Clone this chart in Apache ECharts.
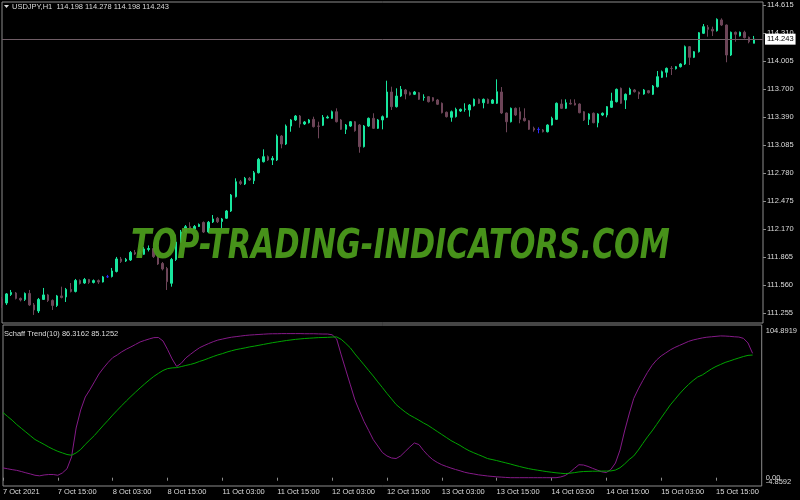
<!DOCTYPE html>
<html>
<head>
<meta charset="utf-8">
<script src="https://cdn.jsdelivr.net/npm/echarts@6/dist/echarts.min.js"></script>
<style>html,body{margin:0;padding:0;background:#000;}#c{width:800px;height:500px;}</style>
</head>
<body>
<div id="c"></div>
<script>
// ---- data ----
const days = ['7 Oct', '8 Oct', '11 Oct', '12 Oct', '13 Oct', '14 Oct', '15 Oct'];
const firstHour = 3;
const padBars = 2;
const priceTicks = [111.255, 111.560, 111.865, 112.170, 112.475, 112.780, 113.085, 113.390, 113.700, 114.005, 114.310, 114.615];
const indTicksTop = [104.8919, 0];
const indTickTextTop = ['104.8919', '0.00'];
const indTicksBottom = [-4.8592];
const indTickTextBottom = ['-4.8592'];

const O = [111.411,111.367,111.460,111.476,111.417,111.406,111.471,111.346,111.280,111.406,
111.455,111.395,111.340,111.444,111.433,111.515,111.493,111.613,111.585,111.624,
111.591,111.611,111.596,111.653,111.656,111.711,111.847,111.825,111.836,111.918,
111.901,111.898,111.951,111.961,111.872,111.798,111.743,111.582,111.842,112.032,
112.141,112.199,112.174,112.201,112.245,112.141,112.250,112.291,112.256,112.291,
112.370,112.526,112.689,112.664,112.726,112.700,112.787,112.907,112.962,112.926,
112.926,113.187,113.100,113.296,113.362,113.405,113.318,113.332,113.369,113.296,
113.304,113.384,113.380,113.452,113.362,113.260,113.296,113.343,113.307,113.071,
113.296,113.380,113.271,113.362,113.391,113.667,113.507,113.623,113.689,113.659,
113.642,113.659,113.607,113.616,113.605,113.580,113.544,113.446,113.391,113.398,
113.460,113.478,113.471,113.518,113.587,113.550,113.587,113.544,113.544,113.667,
113.438,113.343,113.489,113.452,113.380,113.354,113.271,113.259,113.253,113.234,
113.307,113.369,113.536,113.489,113.544,113.544,113.536,113.452,113.369,113.435,
113.332,113.416,113.416,113.500,113.561,113.707,113.580,113.642,113.689,113.664,
113.645,113.681,113.642,113.725,113.827,113.882,113.925,113.921,113.943,113.972,
114.161,114.045,114.106,114.307,114.372,114.350,114.335,114.452,114.397,114.070,
114.318,114.280,114.318,114.263,114.198];
const C = [111.346,111.466,111.482,111.417,111.400,111.471,111.346,111.291,111.406,111.455,
111.395,111.340,111.444,111.427,111.515,111.493,111.613,111.580,111.624,111.591,
111.611,111.596,111.651,111.653,111.716,111.847,111.820,111.842,111.918,111.901,
111.934,111.956,111.961,111.872,111.792,111.738,111.600,111.842,112.032,112.141,
112.199,112.174,112.201,112.223,112.141,112.247,112.283,112.253,112.283,112.370,
112.544,112.689,112.670,112.726,112.708,112.787,112.933,112.962,112.926,112.944,
113.187,113.100,113.296,113.362,113.405,113.318,113.340,113.362,113.289,113.293,
113.391,113.394,113.452,113.343,113.260,113.307,113.343,113.245,113.071,113.296,
113.380,113.271,113.362,113.398,113.667,113.507,113.623,113.696,113.645,113.637,
113.667,113.587,113.612,113.561,113.572,113.533,113.441,113.398,113.452,113.478,
113.478,113.482,113.525,113.587,113.544,113.587,113.544,113.580,113.670,113.438,
113.343,113.489,113.416,113.369,113.354,113.260,113.253,113.259,113.234,113.307,
113.380,113.544,113.489,113.550,113.536,113.525,113.441,113.362,113.427,113.332,
113.427,113.435,113.507,113.569,113.696,113.544,113.642,113.696,113.670,113.645,
113.689,113.659,113.732,113.834,113.888,113.925,113.923,113.943,113.972,114.161,
114.045,114.106,114.313,114.379,114.350,114.332,114.459,114.397,114.070,114.318,
114.296,114.318,114.259,114.215,114.243];
const H = [111.433,111.476,111.509,111.487,111.427,111.482,111.509,111.367,111.422,111.531,
111.466,111.406,111.455,111.545,111.531,111.585,111.629,111.624,111.640,111.629,
111.624,111.624,111.662,111.673,111.749,111.869,111.869,111.858,111.934,111.945,
111.956,111.978,111.994,111.972,111.891,111.814,111.760,111.858,112.054,112.163,
112.217,112.247,112.217,112.234,112.256,112.261,112.326,112.305,112.294,112.381,
112.555,112.726,112.708,112.741,112.741,112.806,112.948,113.042,112.975,112.969,
113.204,113.198,113.313,113.373,113.416,113.416,113.351,113.373,113.398,113.343,
113.416,113.411,113.465,113.489,113.373,113.318,113.351,113.351,113.318,113.307,
113.389,113.435,113.373,113.411,113.790,113.725,113.707,113.732,113.700,113.672,
113.678,113.667,113.642,113.623,113.612,113.591,113.553,113.454,113.465,113.496,
113.487,113.544,113.536,113.596,113.596,113.596,113.596,113.591,113.805,113.721,
113.444,113.498,113.498,113.500,113.489,113.362,113.289,113.282,113.264,113.315,
113.398,113.553,113.587,113.587,113.587,113.587,113.544,113.460,113.435,113.444,
113.435,113.444,113.514,113.659,113.705,113.716,113.651,113.714,113.700,113.672,
113.700,113.689,113.743,113.896,113.901,113.934,113.950,113.950,113.980,114.174,
114.168,114.114,114.321,114.408,114.397,114.379,114.470,114.470,114.403,114.326,
114.326,114.326,114.335,114.272,114.278];
const L = [111.313,111.346,111.444,111.406,111.384,111.389,111.335,111.237,111.258,111.400,
111.378,111.291,111.324,111.417,111.378,111.482,111.482,111.569,111.575,111.575,
111.580,111.575,111.591,111.640,111.645,111.700,111.803,111.814,111.825,111.891,
111.891,111.891,111.929,111.858,111.782,111.722,111.509,111.545,111.825,112.021,
112.130,112.163,112.163,112.196,112.130,112.130,112.239,112.239,112.174,112.283,
112.359,112.517,112.653,112.653,112.697,112.664,112.779,112.899,112.915,112.871,
112.915,113.053,113.089,113.234,113.351,113.278,113.307,113.324,113.280,113.162,
113.296,113.378,113.373,113.335,113.253,113.209,113.286,113.234,113.005,113.062,
113.286,113.264,113.264,113.260,113.384,113.471,113.498,113.612,113.587,113.629,
113.634,113.580,113.572,113.553,113.563,113.525,113.433,113.389,113.343,113.389,
113.449,113.452,113.398,113.509,113.536,113.489,113.536,113.536,113.536,113.427,
113.228,113.335,113.405,113.326,113.345,113.253,113.234,113.217,113.226,113.226,
113.302,113.362,113.482,113.482,113.531,113.520,113.435,113.351,113.307,113.326,
113.282,113.405,113.391,113.493,113.553,113.536,113.482,113.634,113.661,113.591,
113.637,113.651,113.634,113.716,113.820,113.827,113.852,113.912,113.934,113.961,
113.961,114.037,114.097,114.299,114.270,114.277,114.326,114.386,113.991,114.059,
114.215,114.272,114.250,114.198,114.198];

// Schaff Trend(10): main (purple) and signal (green)
const stcMain = [6.8,6.2,5.6,5.1,4.3,3.4,2.6,1.7,1.3,1.9,
2.2,2.2,1.7,3.3,6.2,14.4,34.5,47,56,61,
66.5,72,76.2,80,83.3,85.2,87.4,89.2,90.8,92.5,
94.2,95.3,96.3,97.2,97.3,94.9,89,82.4,77.2,79.4,
83.1,85.6,88,90.2,91.7,93.1,94.4,95.5,96.2,96.9,
97.5,97.9,98.3,98.7,99,99.2,99.4,99.6,99.8,99.9,
99.9,100,100,100,100,100,99.9,99.9,99.9,99.8,
99.7,99.7,99.2,96.3,85.2,74.8,64.4,54,46.3,39,
32.8,26.5,22,17.5,15.1,13.7,13.3,15.1,18.2,21.3,
24.1,23,18.9,15.4,12.6,10.6,9,7.8,6.7,5.7,
4.8,3.8,3.1,2.6,2,1.6,1.2,0.9,0.6,0.4,
0.2,0,0,0,0,0,0,0,0,0,
0,0,0.5,1.5,3.6,6.4,9,8.8,7.8,6.5,
5.3,4.1,3.6,5.7,10.2,19.2,32.4,44.2,55,61.6,
67.5,73.1,77.9,81.7,84.5,86.6,88.7,90.4,91.8,93.2,
94.6,95.6,96.3,97,97.5,97.8,98.1,98.4,98.3,98.1,
97.8,97.6,96.7,93.5,86.3162];
const stcSignal = [45.2,42.5,39.9,36.9,34.3,31.7,29.1,26.5,24.8,23.1,
21.3,19.7,18.3,17.2,16.1,15.6,17.2,19.6,23.1,26.2,
29.3,32.9,36.5,39.9,43.5,46.8,50.1,53.3,56.4,59.4,
62.3,65.1,67.8,70.3,72.4,74.4,75.7,76.2,76.4,77.1,
77.9,78.6,79.5,80.7,81.7,82.9,84.1,85.2,86.1,87.2,
88.1,88.9,89.5,90.1,90.8,91.3,91.9,92.5,93.1,93.7,
94.2,94.7,95.2,95.6,96,96.3,96.6,96.8,97,97.2,
97.3,97.4,97.6,97.7,96,93.2,90.1,85.9,82.1,78.3,
74.4,70.6,66.5,62.6,58.5,54.7,50.8,48.1,45.6,43.4,
41.7,39.9,38,36.3,34.2,32.1,30,27.9,25.8,24.1,
22.4,20.4,18.7,17.3,16,14.7,13.3,12.6,11.9,11.1,
10.3,9.5,8.6,7.8,7,6.3,5.7,5.2,4.7,4.2,
3.8,3.4,3.1,2.8,3.1,3.5,4,4.3,4.4,4.5,
4.5,4.6,4.6,4.7,5.3,6.9,9.5,12.6,15.1,19.2,
23.8,28.3,32.4,36.9,41.5,46,50.5,54.3,58.1,61.6,
64.7,67.5,69.9,71.3,73.4,75.5,77.2,78.6,80,81,
82.1,83.1,84.1,84.9,85.1252];

// ---- categories (hourly bars) ----
const cats = [];
days.forEach((d, di) => {
  for (let h = (di === 0 ? firstHour : 0); h < 24; h++) {
    cats.push(d + ' ' + (h < 10 ? '0' : '') + h + ':00');
  }
});
cats.length = O.length;
cats[0] = '7 Oct 2021';
for (let k = 0; k < padBars; k++) cats.push('');
const nBars = O.length;

const FONT = '"Liberation Sans", Arial, sans-serif';
const TXT = '#dcdcdc';
const FRAME = '#8c8c8c';
const BULL = '#18e69e';
const BEAR = '#6d4558';

const candleData = O.map((o, i) => [o, C[i], L[i], H[i]]);
const lastClose = C[C.length - 1];

const showTime = (idx) => idx < nBars && idx % 12 === 0;
const IND_MIN = -5.76, IND_MAX = 105.97;

const chart = echarts.init(document.getElementById('c'), null, {renderer: 'canvas'});
chart.setOption({
  backgroundColor: '#000',
  animation: false,
  grid: [
    {left: 2, right: 37, top: 2, height: 321, show: true, borderColor: FRAME, borderWidth: 1, backgroundColor: 'transparent'},
    {left: 2, right: 37, top: 325, height: 161, show: true, borderColor: FRAME, borderWidth: 1, backgroundColor: 'transparent'}
  ],
  xAxis: [
    {type: 'category', gridIndex: 0, data: cats, boundaryGap: false,
     axisLine: {show: false}, axisTick: {show: false}, axisLabel: {show: false}, splitLine: {show: false}},
    {type: 'category', gridIndex: 1, data: cats, boundaryGap: false,
     axisLine: {show: false},
     axisTick: {show: true, interval: (i) => showTime(i), length: 3, lineStyle: {color: FRAME}},
     axisLabel: {interval: (i) => showTime(i), align: 'left', margin: 2, color: TXT, fontSize: 7.5, fontFamily: FONT},
     splitLine: {show: false}}
  ],
  yAxis: [
    {type: 'value', gridIndex: 0, position: 'right', min: 111.149, max: 114.648,
     axisLine: {show: false}, splitLine: {show: false},
     axisTick: {show: true, customValues: priceTicks, length: 3, lineStyle: {color: FRAME}},
     axisLabel: {customValues: priceTicks, hideOverlap: false, formatter: (v) => v.toFixed(3), margin: 4, color: TXT, fontSize: 7.5, fontFamily: FONT}},
    {type: 'value', gridIndex: 1, position: 'right', min: IND_MIN, max: IND_MAX,
     axisLine: {show: false}, splitLine: {show: false}, axisTick: {show: false},
     axisLabel: {customValues: indTicksTop, hideOverlap: false, margin: 4, color: TXT, fontSize: 7.5, fontFamily: FONT,
       formatter: (v) => {
         const k = indTicksTop.indexOf(v);
         const t = k >= 0 ? indTickTextTop[k] : String(v);
         return k === 0 ? '{a|' + t + '}' : t;
       },
       rich: {a: {padding: [8, 0, 0, 0], color: TXT, fontSize: 7.5, fontFamily: FONT}}}},
    {type: 'value', gridIndex: 1, position: 'right', min: IND_MIN, max: IND_MAX,
     axisLine: {show: false}, splitLine: {show: false}, axisTick: {show: false},
     axisLabel: {customValues: indTicksBottom, hideOverlap: false, margin: 4, color: TXT, fontSize: 7.5, fontFamily: FONT,
       formatter: (v) => '{b|' + indTickTextBottom[0] + '}',
       rich: {b: {padding: [0, 0, 6, 0], color: TXT, fontSize: 7.5, fontFamily: FONT}}}}
  ],
  series: [
    {type: 'candlestick', xAxisIndex: 0, yAxisIndex: 0, data: candleData, barWidth: 2,
     itemStyle: {color: BULL, color0: BEAR, borderColor: BULL, borderColor0: BEAR, borderColorDoji: '#2a2aff', borderWidth: 1},
     markLine: {silent: true, symbol: ['none', 'none'], animation: false, precision: 3,
       data: [{yAxis: lastClose}],
       lineStyle: {color: '#6f5d66', width: 1, type: 'solid'},
       label: {position: 'end', distance: 2, formatter: () => lastClose.toFixed(3),
               backgroundColor: '#ffffff', color: '#000000', padding: [2, 2, 1, 2], fontSize: 7.5, fontFamily: FONT}}},
    {type: 'line', xAxisIndex: 1, yAxisIndex: 1, data: stcMain, symbol: 'none',
     lineStyle: {color: '#851a88', width: 1}, itemStyle: {color: '#851a88'}},
    {type: 'line', xAxisIndex: 1, yAxisIndex: 1, data: stcSignal, symbol: 'none',
     lineStyle: {color: '#00a400', width: 1}, itemStyle: {color: '#00a400'}}
  ],
  graphic: [
    {type: 'polygon', shape: {points: [[4, 5], [9, 5], [6.5, 8]]}, style: {fill: TXT}, z: 100},
    {type: 'text', x: 12, y: 7, z: 100,
     style: {text: 'USDJPY,H1  114.198 114.278 114.198 114.243', fill: TXT, font: '7.5px ' + FONT, textVerticalAlign: 'middle'}},
    {type: 'text', x: 4, y: 334, z: 100,
     style: {text: 'Schaff Trend(10) 86.3162 85.1252', fill: TXT, font: '7.5px ' + FONT, textVerticalAlign: 'middle'}},
    {type: 'text', x: 131, y: 248, scaleX: 0.756, z: 50,
     style: {text: 'TOP-TRADING-INDICATORS.COM', fill: '#4b9a1b', opacity: 0.95,
             font: 'italic bold 40px "DejaVu Sans"', textAlign: 'left', textVerticalAlign: 'middle'}}
  ]
});
</script>
</body>
</html>
